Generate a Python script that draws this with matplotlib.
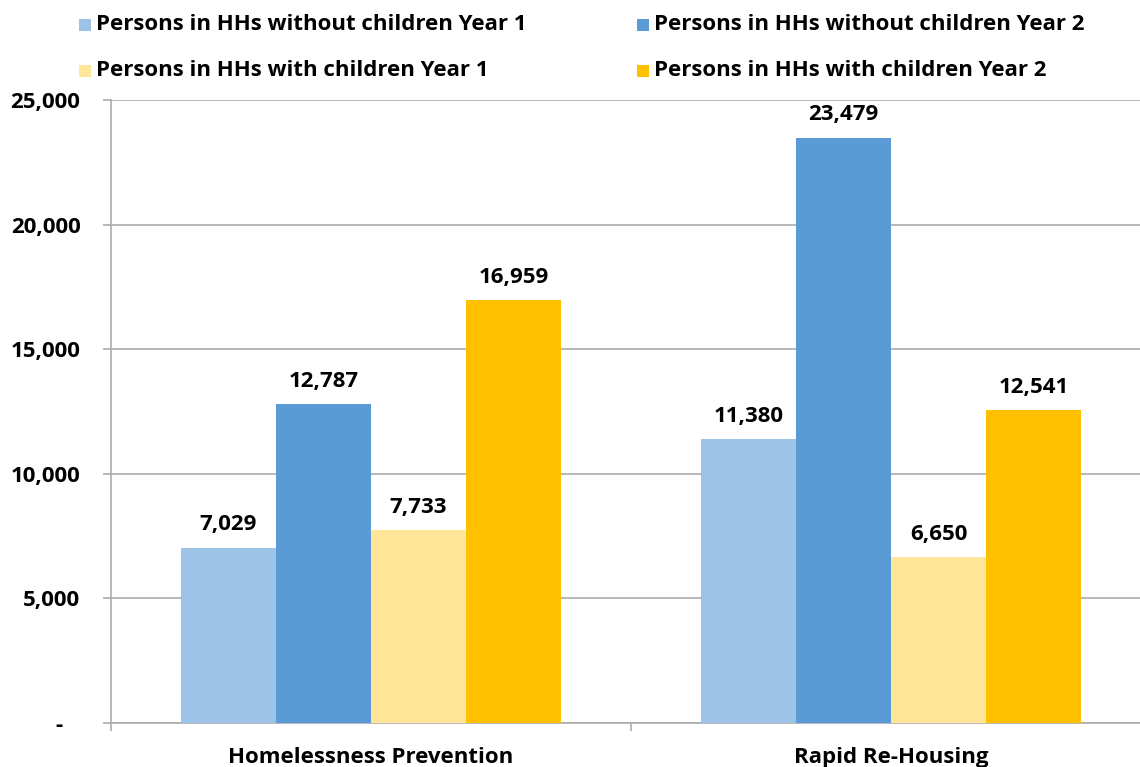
import matplotlib
matplotlib.use("Agg")
import matplotlib.pyplot as plt
import matplotlib.patches as patches
import numpy as np

# Chart data
categories = ["Homelessness Prevention", "Rapid Re-Housing"]
series_names = [
    "Persons in HHs without children Year 1",
    "Persons in HHs without children Year 2",
    "Persons in HHs with children Year 1",
    "Persons in HHs with children Year 2",
]
values = [
    [7029, 11380],
    [12787, 23479],
    [7733, 6650],
    [16959, 12541],
]
colors = ["#9DC3E6", "#5B9BD5", "#FFE699", "#FFC000"]
y_ticks = [0, 5000, 10000, 15000, 20000, 25000]

plt.rcParams['font.family'] = ['Open Sans', 'DejaVu Sans']
plt.rcParams['font.weight'] = 'bold'
FS = 16

fig = plt.figure(figsize=(11.4, 7.67), dpi=100)
W, H = 1140, 767
ax = fig.add_axes([111 / W, 44 / H, 1040 / W, 623 / H])

x = np.arange(len(categories))
bar_w = 0.1827
offsets = (np.arange(len(series_names)) - 1.5) * bar_w
for i, (name, vals) in enumerate(zip(series_names, values)):
    bars = ax.bar(x + offsets[i], vals, width=bar_w, color=colors[i],
                  label=name, zorder=3)
    for b, v in zip(bars, vals):
        ax.annotate(f"{v:,}", (b.get_x() + b.get_width() / 2, v),
                    xytext=(0, 9), textcoords='offset points',
                    ha='center', va='bottom', fontsize=FS, fontweight='bold')

ax.set_xlim(-0.5, 1.5)
ax.set_ylim(0, 25000)
ax.set_yticks(y_ticks)
# accounting-style zero shown as a dash
ax.set_yticklabels(["-   " if t == 0 else f"{t:,}" for t in y_ticks],
                   fontsize=FS, fontweight='bold')
ax.yaxis.grid(True, color='#ABABAB', linewidth=1.2, zorder=0)
ax.tick_params(axis='y', length=6, color='#ABABAB', width=1.2, pad=16)

ax.set_xticks(x)
ax.set_xticklabels(categories, fontsize=FS, fontweight='bold')
ax.set_xticks([-0.5, 0.5, 1.5], minor=True)
ax.tick_params(axis='x', which='major', length=0, pad=17)
ax.tick_params(axis='x', which='minor', length=6, color='#ABABAB', width=1.2)

for side in ['top', 'right']:
    ax.spines[side].set_visible(False)
for side in ['left', 'bottom']:
    ax.spines[side].set_color('#ABABAB')
    ax.spines[side].set_linewidth(1.2)

# Legend in two rows, two columns
legend_pos = [(79, 25), (637, 25), (79, 71), (637, 71)]
for idx, (px, py) in enumerate(legend_pos):
    fig.patches.append(patches.Rectangle(
        (px / W, 1 - (py + 6) / H), 12 / W, 12 / H,
        transform=fig.transFigure, facecolor=colors[idx], edgecolor='none'))
    fig.text((px + 17) / W, 1 - py / H, series_names[idx],
             fontsize=FS, fontweight='bold', va='center', ha='left')

fig.savefig("out.png", dpi=100)
